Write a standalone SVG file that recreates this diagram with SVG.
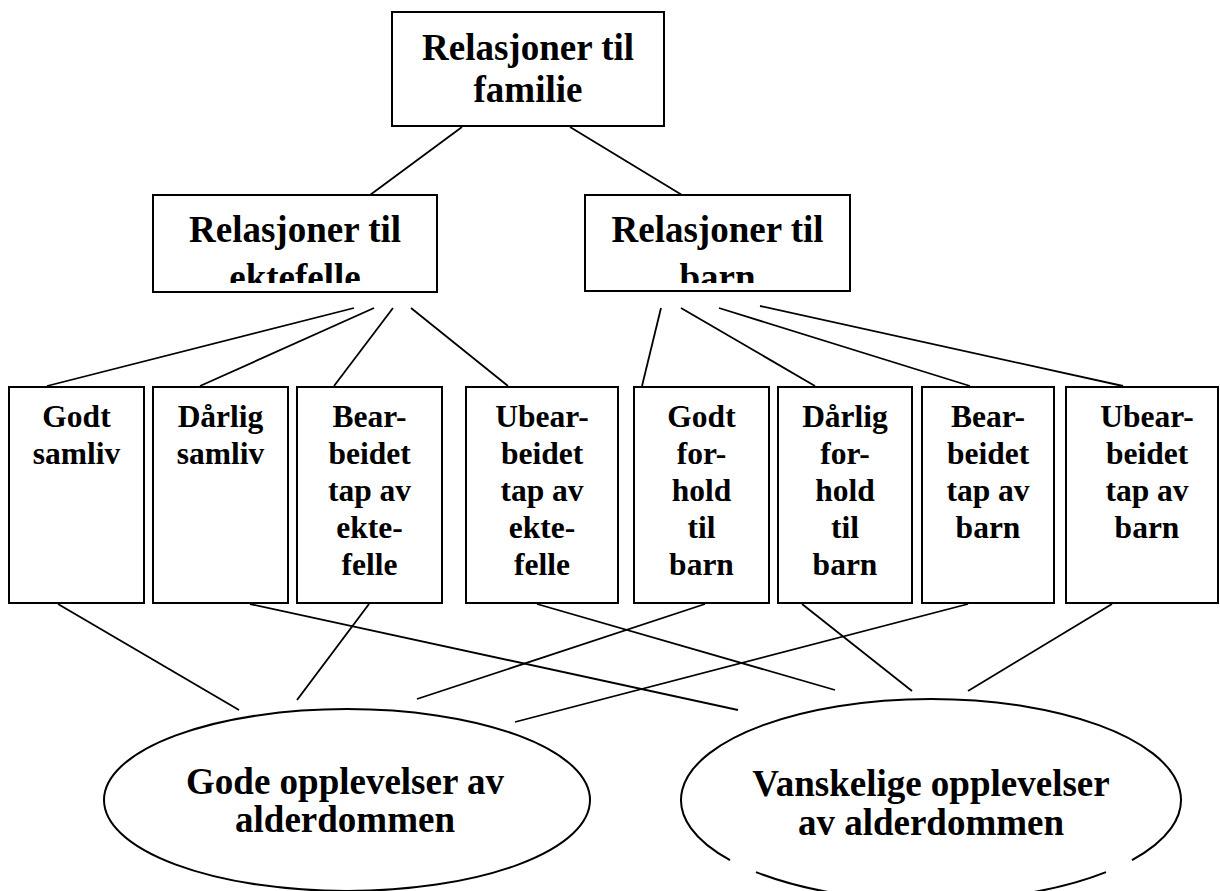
<svg xmlns="http://www.w3.org/2000/svg" width="1220" height="891" viewBox="0 0 1220 891">
<style>
.box{fill:#fff;stroke:#000;stroke-width:2}
.ell{fill:#fff;stroke:#000;stroke-width:2}
.ellfill{fill:#fff;stroke:none}
.ln{stroke:#000;stroke-width:1.8;fill:none}
.t{font-family:"Liberation Serif","Times New Roman",serif;font-weight:bold;text-anchor:middle;fill:#000}
.big{font-size:37px}
.sm{font-size:31.5px}
</style>
<defs>
<clipPath id="c1"><rect x="153" y="195" width="284" height="88"/></clipPath>
<clipPath id="c2"><rect x="585" y="195" width="265" height="88"/></clipPath>
</defs>
<g id="connectors">
<line class="ln" x1="462" y1="127" x2="370" y2="195"/>
<line class="ln" x1="570" y1="127" x2="682" y2="195"/>
<line class="ln" x1="354" y1="308" x2="47" y2="386"/>
<line class="ln" x1="374" y1="308" x2="200" y2="386"/>
<line class="ln" x1="393" y1="308" x2="334" y2="386"/>
<line class="ln" x1="411" y1="308" x2="508" y2="386"/>
<line class="ln" x1="661" y1="308" x2="642" y2="386"/>
<line class="ln" x1="681" y1="308" x2="815" y2="386"/>
<line class="ln" x1="719" y1="308" x2="970" y2="386"/>
<line class="ln" x1="760" y1="306" x2="1123" y2="386"/>
<line class="ln" x1="58" y1="604" x2="239" y2="710"/>
<line class="ln" x1="250" y1="604" x2="738" y2="710"/>
<line class="ln" x1="369" y1="604" x2="297" y2="700"/>
<line class="ln" x1="537" y1="604" x2="835" y2="690"/>
<line class="ln" x1="705" y1="604" x2="417" y2="699"/>
<line class="ln" x1="802" y1="604" x2="912" y2="691"/>
<line class="ln" x1="968" y1="604" x2="515" y2="722"/>
<line class="ln" x1="1112" y1="604" x2="968" y2="691"/>
</g>
<g id="n-familie">
<rect class="box" x="392" y="12" width="272" height="114"/>
<text class="t big" x="528" y="60">Relasjoner til</text>
<text class="t big" x="528" y="102">familie</text>
</g>
<g id="n-ektefelle">
<rect class="box" x="153" y="195" width="284" height="97"/>
<g clip-path="url(#c1)">
<text class="t big" x="295" y="242">Relasjoner til</text>
<text class="t big" x="295" y="290">ektefelle</text>
</g>
</g>
<g id="n-barn">
<rect class="box" x="585" y="195" width="265" height="96"/>
<g clip-path="url(#c2)">
<text class="t big" x="717.5" y="242">Relasjoner til</text>
<text class="t big" x="717.5" y="290">barn</text>
</g>
</g>
<g id="n-godt-samliv">
<rect class="box" x="9" y="387" width="135" height="216"/>
<text class="t sm" x="76.5" y="427">Godt</text>
<text class="t sm" x="76.5" y="464">samliv</text>
</g>
<g id="n-darlig-samliv">
<rect class="box" x="153" y="387" width="135" height="216"/>
<text class="t sm" x="220.5" y="427">Dårlig</text>
<text class="t sm" x="220.5" y="464">samliv</text>
</g>
<g id="n-bearb-ektefelle">
<rect class="box" x="297" y="387" width="145" height="216"/>
<text class="t sm" x="369.5" y="427">Bear-</text>
<text class="t sm" x="369.5" y="464">beidet</text>
<text class="t sm" x="369.5" y="501">tap av</text>
<text class="t sm" x="369.5" y="538">ekte-</text>
<text class="t sm" x="369.5" y="575">felle</text>
</g>
<g id="n-ubearb-ektefelle">
<rect class="box" x="466" y="387" width="152" height="216"/>
<text class="t sm" x="542" y="427">Ubear-</text>
<text class="t sm" x="542" y="464">beidet</text>
<text class="t sm" x="542" y="501">tap av</text>
<text class="t sm" x="542" y="538">ekte-</text>
<text class="t sm" x="542" y="575">felle</text>
</g>
<g id="n-godt-forhold">
<rect class="box" x="634" y="387" width="135" height="216"/>
<text class="t sm" x="701.5" y="427">Godt</text>
<text class="t sm" x="701.5" y="464">for-</text>
<text class="t sm" x="701.5" y="501">hold</text>
<text class="t sm" x="701.5" y="538">til</text>
<text class="t sm" x="701.5" y="575">barn</text>
</g>
<g id="n-darlig-forhold">
<rect class="box" x="778" y="387" width="134" height="216"/>
<text class="t sm" x="845" y="427">Dårlig</text>
<text class="t sm" x="845" y="464">for-</text>
<text class="t sm" x="845" y="501">hold</text>
<text class="t sm" x="845" y="538">til</text>
<text class="t sm" x="845" y="575">barn</text>
</g>
<g id="n-bearb-barn">
<rect class="box" x="922" y="387" width="132" height="216"/>
<text class="t sm" x="988" y="427">Bear-</text>
<text class="t sm" x="988" y="464">beidet</text>
<text class="t sm" x="988" y="501">tap av</text>
<text class="t sm" x="988" y="538">barn</text>
</g>
<g id="n-ubearb-barn">
<rect class="box" x="1066" y="387" width="152" height="216"/>
<text class="t sm" x="1147" y="427">Ubear-</text>
<text class="t sm" x="1147" y="464">beidet</text>
<text class="t sm" x="1147" y="501">tap av</text>
<text class="t sm" x="1147" y="538">barn</text>
</g>
<g id="n-gode">
<ellipse class="ell" cx="347" cy="800" rx="243" ry="91"/>
<text class="t big" x="345" y="794">Gode opplevelser av</text>
<text class="t big" x="345" y="832">alderdommen</text>
</g>
<g id="n-vanskelige">
<ellipse class="ellfill" cx="931" cy="800" rx="250" ry="101"/>
<path class="ln" style="stroke-width:2" d="M756 872.1 A250 101 0 0 0 1106 872.1 M1132 860.06 A250 101 0 1 0 730 860.06"/>
<text class="t big" x="931" y="796">Vanskelige opplevelser</text>
<text class="t big" x="931" y="835">av alderdommen</text>
</g>
</svg>
